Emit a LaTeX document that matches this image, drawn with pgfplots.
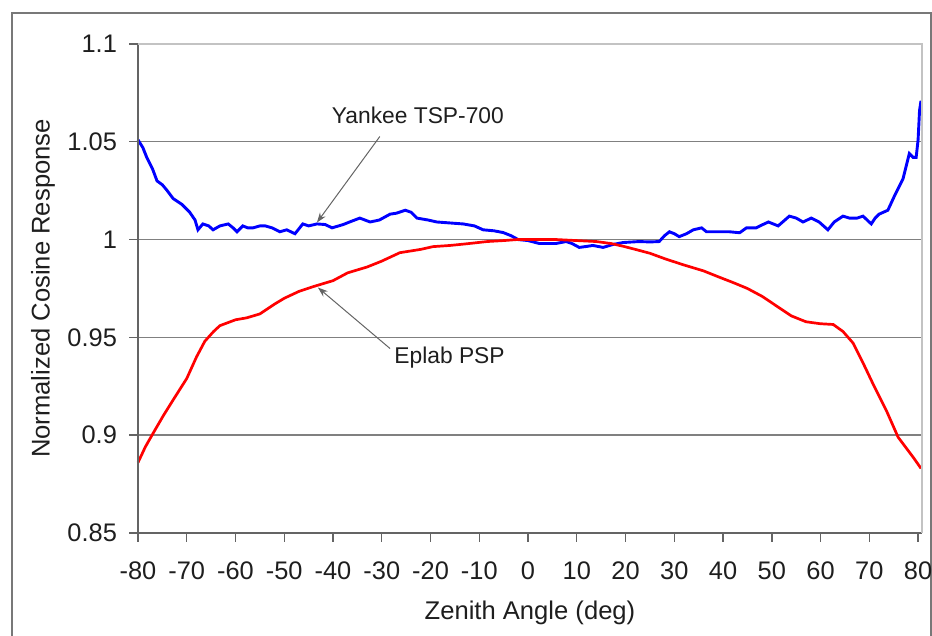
\documentclass[border=0pt]{standalone}
\usepackage{fontspec}
\setmainfont{Liberation Sans}
\usepackage{pgfplots}
\pgfplotsset{compat=1.18}
\usetikzlibrary{arrows.meta}
\definecolor{gridgray}{RGB}{128,128,128}
\definecolor{axgray}{RGB}{100,100,100}
\definecolor{bordergray}{RGB}{195,195,195}
\definecolor{framegray}{RGB}{120,120,120}
\definecolor{txt}{RGB}{30,30,30}
\begin{document}
\begin{tikzpicture}
\useasboundingbox (0,0) rectangle (466pt,318pt);
\draw[framegray, line width=0.9pt] (6pt,-2pt) -- (6pt,311.5pt) -- (465.5pt,311.5pt) -- (465.5pt,-2pt);
\begin{axis}[
  at={(69pt,51.5pt)}, anchor=south west,
  scale only axis, width=392pt, height=244.5pt,
  xmin=-80, xmax=80.8, ymin=0.85, ymax=1.1,
  xtick={-80,-70,-60,-50,-40,-30,-20,-10,0,10,20,30,40,50,60,70,80},
  ytick={0.85,0.9,0.95,1,1.05,1.1},
  yticklabels={0.85,0.9,0.95,1,1.05,1.1},
  tick pos=left, tick align=outside, major tick length=4.5pt,
  tick style={axgray, line width=0.7pt},
  axis line style={draw=none},
  ymajorgrids, major grid style={gridgray, line width=0.7pt},
  /pgf/number format/assume math mode=true,
  ticklabel style={font=\fontsize{12.7}{15}\selectfont, text=txt},
  xticklabel style={yshift=-6.5pt},
  yticklabel style={xshift=-2.5pt},
  label style={font=\fontsize{12.8}{15}\selectfont, text=txt},
  xlabel={Zenith Angle (deg)},
  ylabel={Normalized Cosine Response},
  xlabel style={at={(axis description cs:0.5,-0.1636)}, anchor=center},
  ylabel style={at={(axis description cs:-0.1212,0.5)}, anchor=center},
  clip=false,
]
\addplot[draw={rgb,255:red,0;green,0;blue,255}, line width=1.45pt] coordinates {
(-80,1.051) (-79,1.047) (-78.2,1.042) (-77,1.036) (-76.1,1.030) (-75,1.028) (-74,1.025)
(-72.8,1.021) (-71,1.018) (-69.4,1.014) (-68.3,1.010) (-67.7,1.005) (-66.7,1.008) (-65.5,1.007)
(-64.6,1.005) (-63.2,1.007) (-61.5,1.008) (-60.5,1.006) (-59.7,1.004) (-58.5,1.007) (-57.5,1.006)
(-56.4,1.006) (-55,1.007) (-53.9,1.007) (-52.5,1.006) (-50.9,1.004) (-49.5,1.005) (-47.8,1.003)
(-46.2,1.008) (-45,1.007) (-43.3,1.008) (-41.6,1.0077) (-40.2,1.006) (-37.9,1.0077) (-36.6,1.009)
(-34.5,1.011) (-32.4,1.009) (-30.5,1.010) (-28.3,1.013) (-27,1.0135) (-25.2,1.015) (-24,1.014)
(-22.8,1.011) (-20.5,1.010) (-18.7,1.009) (-16,1.0085) (-13.3,1.008) (-11,1.007) (-9.2,1.005)
(-7,1.0045) (-5.1,1.0036) (-3.5,1.002) (-2,1.000) (0,0.9995) (2.3,0.998) (4,0.998) (5.7,0.998)
(7.8,0.999) (9,0.998) (10.5,0.996) (12,0.9965) (13.3,0.997) (15.4,0.996) (17.4,0.9975)
(19.5,0.9985) (22.8,0.999) (25,0.9988) (26.9,0.999) (28,1.002) (29,1.004) (30,1.003)
(31,1.0015) (32.5,1.003) (33.9,1.005) (35.6,1.006) (36.6,1.004) (39,1.004) (41.3,1.004)
(43.4,1.0035) (44.8,1.006) (46.8,1.006) (48,1.0075) (49.3,1.009) (51.3,1.007) (53.6,1.012)
(55,1.011) (56.4,1.009) (58.1,1.011) (59.7,1.009) (61.5,1.005) (62.8,1.009) (64.6,1.012)
(65.9,1.011) (67.5,1.011) (68.7,1.012) (70.4,1.008) (71.2,1.011) (72,1.013) (73.8,1.015)
(75.1,1.022) (76.9,1.031) (78.2,1.044) (79,1.042) (79.6,1.042) (80,1.051) (80.3,1.066) (80.6,1.071)
};
\addplot[draw={rgb,255:red,255;green,0;blue,0}, line width=1.35pt] coordinates {
(-80,0.886) (-78.5,0.894) (-76.9,0.901) (-74.8,0.910) (-72.8,0.918) (-70,0.929) (-68,0.940)
(-66.3,0.948) (-64.5,0.953) (-63.2,0.956) (-60,0.959) (-57.7,0.960) (-55,0.962) (-52,0.967)
(-50,0.970) (-47,0.9735) (-44,0.976) (-40,0.979) (-37,0.983) (-33,0.986) (-30,0.989)
(-26.3,0.9933) (-22,0.995) (-19.5,0.9964) (-16,0.997) (-12.8,0.9978) (-8.4,0.999) (-5,0.9995)
(-2.3,1.0) (2,1.0) (6,1.0) (10,0.9995) (14,0.999) (17,0.998) (19.5,0.9966) (22,0.995)
(25,0.993) (28.3,0.990) (32,0.987) (36,0.984) (39,0.981) (42.1,0.978) (45,0.975) (48,0.971)
(51,0.966) (54,0.961) (57,0.958) (59.9,0.957) (62.6,0.9566) (64.6,0.953) (66.7,0.947) (68.7,0.937)
(70.8,0.926) (73.6,0.912) (75.9,0.899) (77.7,0.893) (79.2,0.888) (80.6,0.883)
};
\draw[axgray, line width=0.8pt] (rel axis cs:0,1) -- (rel axis cs:0,0) -- (rel axis cs:1,0);
\draw[bordergray, line width=0.8pt] (rel axis cs:0,1) -- (rel axis cs:1,1) -- (rel axis cs:1,0);
\draw[axgray, line width=0.5pt, -{Stealth[length=5pt,width=3.5pt]}] (axis cs:-30.4,1.0527) -- (axis cs:-43.3,1.0087);
\draw[axgray, line width=0.5pt, -{Stealth[length=5pt,width=3.5pt]}] (axis cs:-28.3,0.9443) -- (axis cs:-43.1,0.9755);
\node[font=\fontsize{11.4}{13}\selectfont, text=txt, anchor=center] at (axis cs:-22.6,1.0634) {Yankee TSP-700};
\node[font=\fontsize{11.4}{13}\selectfont, text=txt, anchor=center] at (axis cs:-16.1,0.9397) {Eplab PSP};
\end{axis}
\end{tikzpicture}
\end{document}
